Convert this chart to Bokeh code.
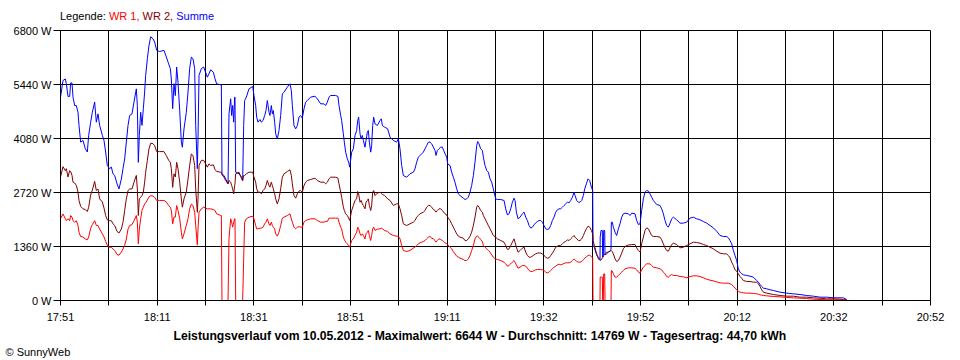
from bokeh.plotting import figure
from bokeh.models import FixedTicker, ColumnDataSource, Title, Div
from bokeh.layouts import column
from bokeh.embed import file_html
from bokeh.resources import INLINE

# minutes after 17:51 (axis spans 17:51 .. 20:52 in 180 grid minutes)
minutes = [
    0.0, 0.52, 1.0, 1.21, 1.55, 1.9, 2.1, 2.38, 2.59, 2.93,
    3.28, 3.62, 3.83, 4.17, 4.66, 5.14, 5.55, 5.83, 6.24, 6.59,
    7.07, 7.41, 7.76, 8.1, 8.66, 9.0, 9.34, 9.69, 10.17, 10.52,
    10.86, 11.21, 11.69, 12.1, 12.59, 12.93, 13.28, 13.62, 13.97, 14.31,
    14.79, 15.21, 15.69, 15.9, 16.1, 16.31, 16.59, 16.86, 17.14, 17.41,
    17.62, 17.97, 18.31, 18.66, 19.14, 19.48, 19.9, 20.52, 21.41, 21.9,
    22.38, 22.72, 22.93, 23.21, 23.48, 23.76, 24.03, 24.31, 24.66, 25.0,
    25.21, 25.55, 26.03, 26.38, 26.72, 27.07, 27.41, 27.76, 27.97, 28.31,
    28.45, 28.66, 29.14, 29.62,
    30.38, 30.72, 31.07, 31.62, 31.97, 32.31, 33.14, 33.28, 33.41, 33.83,
    34.17, 34.66, 34.86, 35.21, 35.41, 35.62, 35.83, 36.03, 36.1, 36.24,
    36.93, 37.48, 37.69, 37.9, 38.1, 38.45, 39.0, 39.76, 40.03, 40.38,
    40.59, 40.86, 41.28, 41.55, 41.9, 42.24, 42.52, 42.79, 43.14, 43.34,
    43.62, 43.83, 44.03, 44.31, 44.52, 44.86, 45.21, 45.55, 45.9, 46.24,
    46.93, 47.48, 47.76, 47.97, 48.31, 48.66, 49.0, 49.34, 49.69, 50.03,
    50.38, 50.72, 51.07, 51.76, 52.66, 53.14, 53.83, 54.52, 54.86, 55.21,
    55.55, 55.9, 56.93, 57.41, 57.62, 57.97, 58.17, 58.52, 58.72, 59.0,
    59.34, 59.62, 59.83,
    60.24, 60.59, 60.93, 61.28, 61.49, 61.69, 61.97, 62.18, 62.45, 62.66,
    63.0, 63.21, 63.49, 63.69, 63.9, 64.18, 64.38, 64.59, 64.8, 65.07,
    65.55, 66.11, 66.38, 66.59, 67.07, 67.69, 68.18, 68.87, 69.55, 69.9,
    70.24, 70.59, 70.93, 71.62, 72.31, 73.0, 73.35, 73.69, 74.04, 74.38,
    75.07, 75.42, 75.76, 76.11, 76.45, 76.8, 77.14, 77.49, 77.69, 77.97,
    78.31, 78.66, 79.0, 79.28, 79.56, 79.9, 80.11, 80.59, 80.93, 81.28,
    81.62, 81.97, 82.31, 82.66, 83.35, 83.69, 84.04, 84.38, 84.73, 85.07,
    85.42, 85.76, 86.11, 86.31, 86.59, 86.93, 87.28, 87.49, 87.83, 88.18,
    88.52, 88.87, 89.21, 89.55,
    90.04, 90.39, 91.08, 91.77, 92.11, 92.46, 92.8, 93.15, 93.49, 93.84,
    94.04, 94.32, 94.67, 95.08, 95.56, 95.91, 96.25, 96.6, 96.94, 97.29,
    97.63, 97.98, 98.32, 98.67, 99.01, 99.36, 99.7, 100.04, 100.39, 100.73,
    101.08, 101.42, 101.77, 102.11, 102.46, 102.8, 103.15, 103.49, 103.84, 104.18,
    104.53, 104.87, 105.22, 105.56, 105.91, 106.25, 106.46, 106.8, 107.15, 107.49,
    107.84, 108.18, 108.46, 108.8, 109.15, 109.49, 109.84, 110.11,
    110.18, 110.45, 110.73, 111.0, 111.28, 111.62, 111.66, 111.83, 112.1,
    112.17, 112.31, 112.38, 112.59, 112.66, 113.0, 113.35, 113.69, 113.9, 113.97,
    114.17, 114.38, 114.73, 115.07, 115.42, 115.76, 116.11, 116.45, 116.8, 117.49,
    117.83, 118.18, 118.86, 119.21, 119.56,
    119.9, 120.24, 120.59, 120.93, 121.28, 121.62, 121.97, 122.31, 122.66,
    123.35, 124.04, 124.38, 124.73, 125.07, 125.42, 125.76, 126.11, 126.45, 126.8,
    127.49, 128.18, 128.87, 129.55, 130.24, 130.93, 131.62, 132.31, 133.0, 133.69,
    134.38, 135.07, 135.76, 136.45, 137.14,
    137.83, 138.18, 138.52, 138.87, 139.21, 139.56, 139.9, 140.24, 140.59, 140.93, 141.28,
    141.97, 142.66, 143.35, 144.04, 144.38, 144.73, 145.07, 145.42,
    146.11, 146.8, 147.49, 148.87, 150.24, 151.62, 153.0, 154.38, 155.76, 157.14,
    158.52, 159.9, 161.28, 161.97, 162.66,
]

# WR 1 (W)
wr1 = [
    2060, 2180, 2060, 2010, 2060, 2010, 2140, 2100, 2010, 1970,
    2010, 1890, 1720, 1610, 1600, 1550, 1530, 1600, 1820, 1910,
    2010, 1890, 1890, 1800, 1680, 1600, 1490, 1390, 1340, 1340,
    1300, 1260, 1160, 1140, 1220, 1300, 1390, 1550, 1800, 1890,
    1910, 2010, 2140, 1970, 1430, 1800, 2060, 2270, 2350, 2430,
    2460, 2530, 2610, 2640, 2630, 2600, 2520, 2520, 2520, 2480,
    2390, 2350, 2270, 1930, 2100, 2100, 2390, 2270, 2060, 1720,
    1550, 1680, 1890, 2060, 2310, 2430, 2390, 2220, 1890, 1400,
    1800, 2220, 2310, 2350,
    2309, 2309, 2309, 2292, 2267, 2183, 2141, 2141, 0, 0,
    0, 0, 1553, 2057, 1973, 1847, 1973, 2057, 2057, 0,
    0, 0, 0, 1049, 1973, 2057, 2099, 2124, 2057, 1889,
    1805, 1805, 1822, 1822, 1847, 1931, 1973, 2057, 1931, 1889,
    1973, 1889, 1847, 1805, 1679, 1620, 1721, 1889, 2074, 2099,
    2141, 2183, 2057, 1973, 1847, 1805, 1847, 1863, 1847, 1847,
    1973, 2015, 2032, 2057, 2057, 2015, 1973, 1973, 1990, 1990,
    2074, 2074, 2074, 2074, 1973, 1847, 1805, 1595, 1536, 1469,
    1427, 1385, 1343,
    1511, 1553, 1637, 1721, 1847, 1805, 1679, 1637, 1679, 1637,
    1553, 1679, 1721, 1763, 1637, 1511, 1637, 1805, 1847, 1763,
    1797, 1805, 1822, 1805, 1763, 1738, 1679, 1637, 1620, 1620,
    1553, 1385, 1259, 1234, 1259, 1318, 1343, 1385, 1427, 1452,
    1486, 1511, 1553, 1595, 1612, 1570, 1553, 1511, 1469, 1511,
    1553, 1536, 1511, 1486, 1452, 1427, 1402, 1343, 1301, 1234,
    1175, 1117, 1091, 1066, 1033, 1007, 1007, 1049, 1133, 1259,
    1385, 1553, 1620, 1620, 1587, 1536, 1486, 1385, 1343, 1301,
    1259, 1217, 1150, 1091,
    1041, 1033, 1007, 965, 923, 865, 881, 923, 965, 1007,
    965, 898, 814, 839, 881, 881, 865, 814, 756, 730,
    730, 756, 772, 781, 781, 781, 772, 756, 714, 697,
    714, 756, 797, 839, 865, 898, 915, 898, 915, 932,
    949, 949, 949, 965, 1007, 1049, 1024, 982, 965, 965,
    982, 1024, 1066, 1100, 1133, 1142, 1108, 1066,
    0, 0, 0, 0, 0, 0, 590, 590, 590,
    0, 0, 670, 670, 0, 0, 0, 0, 0, 756,
    740, 672, 588, 588, 630, 672, 714, 756, 798, 823,
    823, 823, 810, 772, 714,
    688, 772, 840, 881, 923, 923, 923, 881, 840,
    823, 798, 772, 714, 672, 604, 588, 630, 655, 630,
    630, 604, 596, 571, 604, 621, 621, 604, 571, 537, 512, 495, 470, 445, 437,
    437, 437, 420, 403, 353, 319, 269, 235, 210, 201, 193,
    185, 185, 176, 168, 160, 143, 134, 126,
    118, 109, 101, 92, 76, 67, 59, 50, 34, 25, 17, 17, 17, 8, 8,
]

# WR 2 (W)
wr2 = [
    3110, 3370, 3270, 3320, 3110, 3270, 3250, 3150, 2980, 2960,
    2900, 2730, 2520, 2370, 2310, 2290, 2240, 2350, 2660, 2780,
    3000, 2770, 2810, 2560, 2480, 2330, 2140, 2030, 2010, 2010,
    1930, 1890, 1740, 1700, 1800, 1970, 2270, 2560, 2770, 2810,
    2810, 2980, 3150, 2810, 2140, 2560, 2600, 2640, 2730, 2980,
    3230, 3530, 3820, 3960, 3950, 3900, 3750, 3750, 3750, 3650,
    3530, 3480, 3320, 2850, 3190, 3110, 3480, 3320, 2980, 2560,
    2350, 2560, 2730, 3060, 3400, 3690, 3650, 3400, 2810, 2220,
    2560, 3400, 3530, 3530,
    3358, 3442, 3400, 3417, 3299, 3249, 3232, 3232, 3165, 3106,
    3022, 2938, 3022, 2980, 2896, 2812, 2686, 2896, 2938, 3190,
    3232, 3064, 3022, 3148, 3148, 3190, 3232, 3232, 3106, 2980,
    2812, 2728, 2728, 2686, 2770, 2812, 2896, 3022, 2896, 2854,
    2980, 2896, 2812, 2686, 2560, 2435, 2560, 2812, 3106, 3190,
    3249, 3291, 3148, 2938, 2644, 2577, 2686, 2754, 2770, 2728,
    2896, 2980, 3022, 3047, 3081, 3022, 2980, 2980, 2938, 2980,
    3064, 3106, 3106, 3081, 2938, 2728, 2602, 2351, 2267, 2183,
    2141, 2074, 2015,
    2267, 2393, 2519, 2560, 2745, 2686, 2476, 2519, 2435, 2393,
    2309, 2476, 2519, 2560, 2393, 2267, 2393, 2728, 2770, 2644,
    2703, 2728, 2695, 2670, 2644, 2560, 2519, 2393, 2435, 2435,
    2309, 2141, 1931, 1889, 1931, 1973, 2015, 2099, 2141, 2183,
    2225, 2267, 2351, 2393, 2393, 2351, 2292, 2267, 2225, 2267,
    2309, 2309, 2267, 2225, 2183, 2157, 2099, 2015, 1931, 1847,
    1763, 1679, 1620, 1595, 1570, 1511, 1511, 1553, 1620, 1721,
    1889, 2099, 2351, 2393, 2351, 2267, 2225, 2141, 2057, 1973,
    1889, 1805, 1721, 1637,
    1595, 1553, 1511, 1469, 1385, 1284, 1301, 1385, 1469, 1553,
    1469, 1343, 1217, 1259, 1318, 1343, 1217, 1133, 1091, 1091,
    1117, 1150, 1175, 1192, 1200, 1192, 1175, 1133, 1091, 1066,
    1075, 1133, 1192, 1259, 1343, 1368, 1385, 1385, 1427, 1469,
    1486, 1528, 1511, 1553, 1595, 1637, 1595, 1553, 1511, 1511,
    1553, 1637, 1721, 1805, 1872, 1847, 1763, 1679,
    1510, 1390, 1260, 1150, 1049, 1007, 1007, 1020, 1070,
    1080, 1130, 1130, 1170, 1175, 1217, 1217, 1240, 1259, 1259,
    1230, 1175, 1049, 982, 1007, 1091, 1192, 1301, 1360, 1400,
    1400, 1410, 1410, 1326, 1259,
    1217, 1427, 1595, 1763, 1830, 1805, 1721, 1637, 1612,
    1612, 1595, 1528, 1427, 1326, 1259, 1242, 1326, 1410, 1444,
    1410, 1326, 1343, 1385, 1427, 1469, 1461, 1444, 1410, 1385, 1343, 1301, 1242, 1192, 1175,
    1175, 1133, 1075, 965, 881, 772, 739, 672, 604, 562, 504,
    479, 479, 462, 462, 420, 353, 269, 210,
    185, 168, 151, 126, 109, 109, 84, 84, 67, 59, 42, 42, 34, 25, 17,
]

# Summe (W)
summe = [
    5120, 5540, 5580, 5460, 5140, 5140, 5480, 5480, 5120, 4910,
    4910, 4740, 4410, 3990, 4030, 3820, 3740, 4160, 4490, 4740,
    5000, 4490, 4700, 4410, 4160, 4030, 3740, 3400, 3320, 3360,
    3190, 3150, 2940, 2810, 3060, 3320, 3570, 3990, 4410, 4660,
    4700, 5000, 5330, 4910, 3480, 4160, 4740, 4410, 4830, 5250,
    5670, 6090, 6420, 6644, 6590, 6510, 6300, 6270, 6300, 6130,
    5960, 5840, 5580, 4830, 5460, 5160, 5880, 5500, 4790, 3990,
    3860, 4320, 4740, 5250, 5840, 6130, 6090, 5840, 4410, 3320,
    4070, 5670, 5840, 5880,
    5625, 5709, 5809, 5751, 5583, 5457, 5432, 5432, 3190, 3148,
    3064, 2938, 4701, 5079, 4659, 4911, 4491, 5121, 5121, 3232,
    3190, 3106, 3022, 4407, 5037, 5121, 5331, 5390, 5163, 4911,
    4617, 4491, 4558, 4491, 4533, 4659, 4785, 5037, 4743, 4659,
    4911, 4701, 4785, 4491, 4198, 4072, 4281, 4659, 5205, 5247,
    5373, 5457, 5289, 4911, 4407, 4323, 4407, 4617, 4659, 4592,
    4827, 4995, 5037, 5121, 5146, 5079, 4953, 4953, 4911, 4995,
    5121, 5163, 5163, 5138, 4911, 4659, 4533, 4198, 3988, 3736,
    3568, 3484, 3358,
    3736, 3820, 4156, 4281, 4533, 4617, 4198, 4072, 4156, 4030,
    3862, 4030, 4239, 4281, 3988, 3736, 3904, 4407, 4617, 4449,
    4407, 4533, 4575, 4407, 4365, 4323, 4114, 4030, 3988, 4072,
    3820, 3400, 3148, 3106, 3190, 3232, 3316, 3484, 3610, 3652,
    3736, 3820, 3904, 3988, 3988, 3946, 3862, 3778, 3652, 3778,
    3820, 3862, 3862, 3778, 3694, 3610, 3442, 3400, 3232, 3106,
    2980, 2812, 2686, 2644, 2577, 2544, 2560, 2602, 2728, 2896,
    3148, 3484, 3904, 4004, 3946, 3820, 3778, 3610, 3400, 3274,
    3232, 3064, 2980, 2812,
    2560, 2544, 2544, 2519, 2309, 2157, 2183, 2309, 2476, 2577,
    2519, 2225, 2057, 2099, 2183, 2225, 2099, 2015, 1889, 1822,
    1847, 1906, 1956, 1990, 2015, 2015, 1973, 1889, 1805, 1788,
    1805, 1889, 2015, 2099, 2225, 2284, 2309, 2309, 2351, 2393,
    2435, 2476, 2460, 2519, 2602, 2728, 2644, 2519, 2476, 2476,
    2519, 2644, 2812, 2938, 3064, 3022, 2854, 2770,
    1385, 1343, 1217, 1133, 1091, 1024, 1600, 1763, 1763,
    1090, 1110, 1763, 1763, 1150, 1175, 1217, 1259, 1280, 1973,
    1973, 1847, 1721, 1637, 1805, 1931, 2099, 2183, 2200, 2183,
    2141, 2200, 2183, 2015, 1914,
    1931, 2267, 2560, 2728, 2770, 2754, 2686, 2602, 2518,
    2418, 2393, 2309, 2183, 2015, 1889, 1847, 1948, 2057, 2099,
    2032, 1948, 1948, 1973, 2074, 2099, 2057, 2032, 1990, 1948, 1889, 1830, 1746, 1637, 1612,
    1612, 1578, 1511, 1427, 1259, 1133, 1007, 798, 714, 672, 646,
    630, 613, 588, 504, 462, 403, 353, 311,
    294, 269, 252, 210, 185, 168, 151, 126, 109, 84, 84, 67, 67, 67, 25,
]

x_ticks = [0, 10, 20, 30, 40, 50, 60, 70, 80, 90, 100, 110, 120, 130, 140, 150, 160, 170, 180]
x_tick_labels = ["17:51", "", "18:11", "", "18:31", "", "18:51", "", "19:11", "",
                 "19:32", "", "19:52", "", "20:12", "", "20:32", "", "20:52"]
y_ticks = [0, 1360, 2720, 4080, 5440, 6800]
y_tick_labels = ["0 W", "1360 W", "2720 W", "4080 W", "5440 W", "6800 W"]

legend_title = "Legende:"
series_names = ["WR 1", "WR 2", "Summe"]
series_colors = ["#ff0000", "#800000", "#0000ff"]
title_text = ("Leistungsverlauf vom 10.05.2012 - Maximalwert: 6644 W - "
              "Durchschnitt: 14769 W - Tagesertrag: 44,70 kWh")
copyright_text = "\u00a9 SunnyWeb"

FONT = "Liberation Sans"

src = ColumnDataSource(dict(t=minutes, wr1=wr1, wr2=wr2, summe=summe))

p = figure(frame_width=870, frame_height=270, x_range=(0, 180), y_range=(0, 6800),
           output_backend="svg", toolbar_location=None, title=None,
           min_border_left=60, min_border_right=30, min_border_top=8, min_border_bottom=60,
           background_fill_color="white", border_fill_color="white")
p.outline_line_color = "black"
p.outline_line_width = 1

for g in (p.xgrid, p.ygrid):
    g.grid_line_color = "black"
    g.grid_line_width = 1
    g.grid_line_alpha = 1.0

p.xaxis.ticker = FixedTicker(ticks=x_ticks)
p.xaxis.major_label_overrides = {t: lab for t, lab in zip(x_ticks, x_tick_labels)}
p.yaxis.ticker = FixedTicker(ticks=y_ticks)
p.yaxis.major_label_overrides = {t: lab for t, lab in zip(y_ticks, y_tick_labels)}

for ax in (p.xaxis, p.yaxis):
    ax.axis_line_color = "black"
    ax.major_tick_line_color = "black"
    ax.minor_tick_line_color = None
    ax.major_tick_in = 0
    ax.major_label_text_font = FONT
    ax.major_label_text_font_size = "11px"
    ax.major_label_text_color = "black"
p.xaxis.major_tick_out = 5
p.xaxis.major_label_standoff = 5
p.yaxis.major_tick_out = 7
p.yaxis.major_label_standoff = 2

p.line("t", "summe", source=src, line_color=series_colors[2], line_width=1)
p.line("t", "wr2", source=src, line_color=series_colors[1], line_width=1)
p.line("t", "wr1", source=src, line_color=series_colors[0], line_width=1)

# bottom texts (stacked below the x axis)
p.add_layout(Title(text=title_text, align="left", offset=113, standoff=2,
                   text_font=FONT, text_font_size="12.2px", text_font_style="bold",
                   text_color="black"), "below")
p.add_layout(Title(text=copyright_text, align="left", offset=-55, standoff=0,
                   text_font=FONT, text_font_size="11px", text_font_style="normal",
                   text_color="black"), "below")

# colored legend line above the plot
parts = [legend_title] + [
    '<span style="color:%s">%s,</span>' % (c, n) if i < 2 else
    '<span style="color:%s">%s</span>' % (c, n)
    for i, (n, c) in enumerate(zip(series_names, series_colors))
]
legend_div = Div(
    text=" ".join(parts), width=960, height=22, margin=(0, 0, 0, 0),
    styles={"font-family": "'Liberation Sans', sans-serif", "font-size": "11px",
            "line-height": "13px", "padding-left": "60px", "padding-top": "10px",
            "white-space": "nowrap", "color": "black", "box-sizing": "border-box"},
)

layout = column(legend_div, p, spacing=0)
open("out.html", "w").write(file_html(layout, INLINE))
